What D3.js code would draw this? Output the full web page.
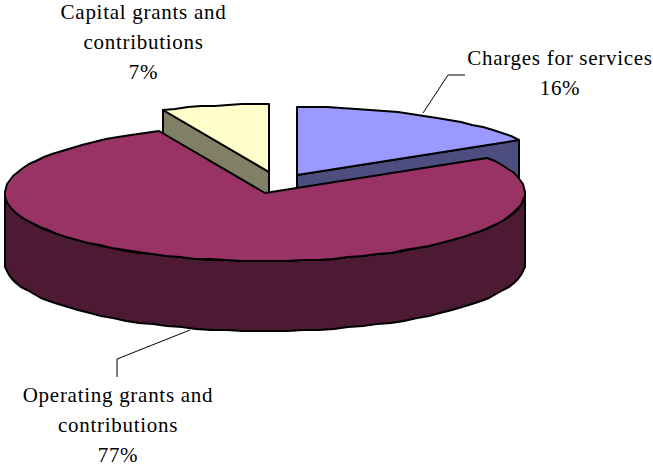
<!DOCTYPE html>
<html>
<head>
<meta charset="utf-8">
<script src="https://cdn.jsdelivr.net/npm/d3@7"></script>
<style>
  html, body { margin: 0; padding: 0; background: #fff; }
  svg { display: block; }
  text { font-family: "Liberation Serif", serif; font-size: 21px; letter-spacing: 0.72px; fill: #000; text-anchor: middle; }
</style>
</head>
<body>
<div id="chart"></div>
<script>
const categories = ["Charges for services", "Operating grants and contributions", "Capital grants and contributions"];
const shares = [16.3, 77.0, 6.7];
const labelLines = [["Charges for services"], ["Operating grants and", "contributions"], ["Capital grants and", "contributions"]];

const topColors = ["#9999ff", "#993366", "#ffffcc"];
const sideColors = ["#4d4d80", "#4d1a33", "#808066"];

const width = 653, height = 466;
const cx = 265, cy = 193, rx = 260, ry = 68, depth = 70;

// how far each slice is pulled out of the pie, and where its label sits
const offsets = [[32, -18], [0, 0], [4, -21]];
const labelPos = [[560, 65], [118, 402], [143.5, 19]];
const leaders = [
  [[423, 113], [448, 75], [465, 75]],
  [[190, 330], [117, 359], [117, 377]],
];

const svg = d3.select("#chart").append("svg")
  .attr("width", width)
  .attr("height", height);

const pie = d3.pie().sort(null).value(d => d);
const slices = pie(shares);

// d3 pie angles run clockwise from 12 o'clock, squash the circle to get the tilt
const px = d3.scaleLinear().domain([-1, 1]).range([cx - rx, cx + rx]);
const py = d3.scaleLinear().domain([-1, 1]).range([cy - ry, cy + ry]);
// whole pixels only, that gives the rim its small steps
const rim = (a, off, dz = 0) => [
  Math.round(px(Math.sin(a)) + off[0]),
  Math.round(py(-Math.cos(a)) + off[1] + dz),
];
const line = d3.line();

function sample(a0, a1, off, dz) {
  const n = Math.max(2, Math.ceil(Math.abs(a1 - a0) / 0.06));
  return d3.range(n + 1).map(i => rim(a0 + (a1 - a0) * i / n, off, dz));
}

function drawShape(pts, fill) {
  svg.append("path")
    .attr("d", line(pts) + "Z")
    .attr("fill", fill)
    .attr("stroke", "#000")
    .attr("stroke-width", 2)
    .attr("stroke-linejoin", "round");
}

// walls of the pulled out slices go first, the big slice covers them
[0, 2].forEach(i => {
  const s = slices[i], off = offsets[i];
  const apex = [px(0) + off[0], py(0) + off[1]];
  const edge = i === 0 ? s.endAngle : s.startAngle;
  const corner = rim(edge, off);
  drawShape([apex, corner, [corner[0], corner[1] + depth], [apex[0], apex[1] + depth]], sideColors[i]);
});

// outer wall of the big slice, only the front half shows
const big = slices[1], bigOff = offsets[1];
const frontStart = Math.PI / 2, frontEnd = Math.PI * 1.5;
drawShape(
  sample(frontStart, frontEnd, bigOff, 0).concat(sample(frontEnd, frontStart, bigOff, depth)),
  sideColors[1]
);

slices.forEach((s, i) => {
  const off = offsets[i];
  const apex = [px(0) + off[0], py(0) + off[1]];
  drawShape([apex].concat(sample(s.startAngle, s.endAngle, off, 0)), topColors[i]);
});

leaders.forEach(pts => {
  svg.append("path")
    .attr("d", line(pts))
    .attr("fill", "none")
    .attr("stroke", "#000")
    .attr("stroke-width", 1);
});

// name lines then the rounded share
slices.forEach((s, i) => {
  const t = svg.append("text")
    .attr("x", labelPos[i][0])
    .attr("y", labelPos[i][1]);
  labelLines[i].concat([Math.round(shares[i]) + "%"]).forEach((l, j) => {
    t.append("tspan")
      .attr("x", labelPos[i][0])
      .attr("dy", j ? 30 : 0)
      .text(l);
  });
});
</script>
</body>
</html>
